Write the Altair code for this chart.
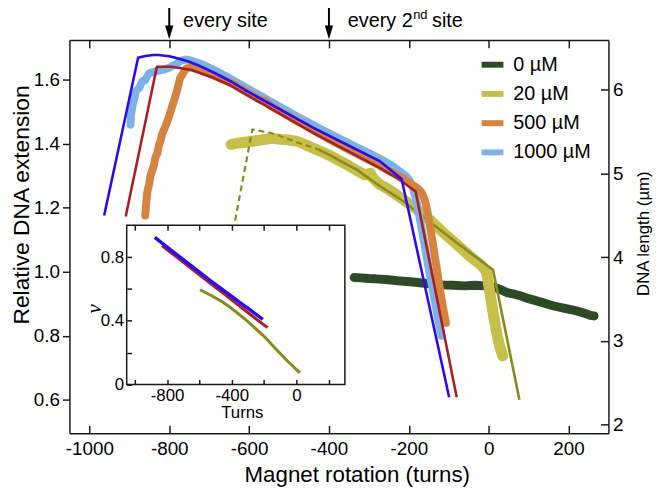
import altair as alt
import pandas as pd

FONT = "Liberation Sans"
INK = "#1a1a1a"

# ---------------- categories / colours ----------------
SERIES = ["0 µM", "20 µM", "500 µM", "1000 µM"]
SERIES_COLORS = ["#2c4a26", "#c6c04a", "#d4843e", "#7cb2e8"]
FIT20_COLOR = "#8a8a1e"
FIT500_COLOR = "#a82024"
FIT1000_COLOR = "#2a0af5"

# ---------------- tick labels ----------------
X_TICKS = [-1000, -800, -600, -400, -200, 0, 200]
Y_TICKS = [0.6, 0.8, 1.0, 1.2, 1.4, 1.6]
L_TICKS = [2, 3, 4, 5, 6]
IX_LABELS = [-800, -400, 0]
IX_TICKS = [-1000, -800, -600, -400, -200, 0, 200]
IY_LABELS = [0, 0.4, 0.8]
IY_TICKS = [0, 0.2, 0.4, 0.6, 0.8]

X_DOM = [-1050, 300]
Y_DOM = [0.495, 1.725]
L_DOM = [1.893, 6.596]
IY_DOM = [0, 1]

ANN_T = [-800, -400]

# ---------------- measured data ----------------
t_0 = [-337, -320, -300, -282, -250, -220, -190, -167, -140, -117, -90, -60, -35, -10, 7, 25, 48, 65, 81,
       100, 120, 140, 163, 185, 205, 225, 240, 254, 264]
v_0 = [0.982, 0.981, 0.979, 0.978, 0.975, 0.971, 0.968, 0.965, 0.962, 0.959, 0.958, 0.956, 0.958, 0.956,
       0.954, 0.947, 0.934, 0.930, 0.924, 0.916, 0.909, 0.902, 0.893, 0.887, 0.882, 0.876, 0.870, 0.864, 0.862]

t_20 = [-645, -630, -610, -587, -560, -540, -521, -500, -480, -460, -439, -420, -398, -378, -356, -332, -310,
        -296, -290, -274, -250, -233, -208, -180, -150, -120, -84, -50, -20, -6, -2, 3, 8, 14, 20, 27, 35]
v_20 = [1.398, 1.402, 1.405, 1.409, 1.414, 1.417, 1.414, 1.412, 1.408, 1.398, 1.386, 1.376, 1.364, 1.350,
        1.336, 1.318, 1.303, 1.308, 1.293, 1.274, 1.257, 1.243, 1.220, 1.195, 1.165, 1.130, 1.090, 1.052,
        1.022, 1.003, 0.975, 0.935, 0.895, 0.850, 0.810, 0.770, 0.737]

t_500 = [-860, -858, -855, -851, -847, -842, -838, -835, -830, -826, -822, -818, -813, -808, -802, -797, -792,
         -786, -781, -777, -773, -768, -762, -757, -748, -738, -728, -710, -690, -670, -650, -630, -610, -590,
         -570, -560, -550, -530, -510, -490, -470, -450, -430, -410, -390, -370, -350, -330, -310, -290, -270,
         -250, -230, -210, -195, -182, -175, -168, -162, -156, -150, -140, -130, -120, -113, -107]
v_500 = [1.176, 1.210, 1.250, 1.270, 1.300, 1.320, 1.335, 1.357, 1.370, 1.395, 1.410, 1.430, 1.445, 1.460,
         1.480, 1.500, 1.520, 1.543, 1.565, 1.585, 1.605, 1.615, 1.628, 1.636, 1.640, 1.637, 1.633, 1.625,
         1.614, 1.603, 1.593, 1.580, 1.565, 1.550, 1.536, 1.534, 1.522, 1.507, 1.493, 1.478, 1.464, 1.450,
         1.436, 1.422, 1.408, 1.395, 1.382, 1.369, 1.356, 1.343, 1.330, 1.316, 1.302, 1.287, 1.275, 1.265,
         1.258, 1.248, 1.232, 1.205, 1.165, 1.090, 1.010, 0.930, 0.880, 0.840]

t_1000 = [-897, -896, -893, -890, -886, -884, -880, -875, -868, -860, -851, -840, -828, -815, -800, -785, -770,
          -760, -745, -720, -690, -660, -630, -600, -570, -540, -510, -480, -450, -420, -390, -360, -330, -300,
          -270, -240, -215, -205, -198, -190, -181, -170, -160, -150, -140, -134, -126, -118]
v_1000 = [1.460, 1.490, 1.512, 1.530, 1.550, 1.564, 1.570, 1.575, 1.595, 1.600, 1.620, 1.625, 1.628, 1.632,
          1.638, 1.648, 1.660, 1.664, 1.660, 1.650, 1.632, 1.613, 1.592, 1.570, 1.549, 1.528, 1.507, 1.486,
          1.466, 1.446, 1.427, 1.408, 1.389, 1.371, 1.352, 1.330, 1.307, 1.297, 1.285, 1.262, 1.222, 1.150,
          1.080, 1.010, 0.945, 0.902, 0.850, 0.800]

# model fits
fit1000_t = [-963, -878, -860, -840, -827, -800, -777, -750, -728, -690, -645, -604, -540, -480, -439, -356,
             -274, -218, -99]
fit1000_v = [1.176, 1.669, 1.675, 1.678, 1.678, 1.674, 1.667, 1.657, 1.646, 1.624, 1.595, 1.564, 1.520,
             1.478, 1.450, 1.398, 1.347, 1.290, 0.608]

fit500_t = [-909, -831, -793, -744, -686, -650, -604, -520, -439, -356, -274, -230, -183, -80]
fit500_v = [1.173, 1.641, 1.641, 1.631, 1.605, 1.585, 1.552, 1.492, 1.434, 1.380, 1.326, 1.294, 1.251, 0.608]

fit20_dash_t = [-635, -592, -546, -521, -480, -439, -426]
fit20_dash_v = [1.160, 1.445, 1.434, 1.424, 1.405, 1.388, 1.382]
fit20_t = [-426, -398, -356, -332, -274, -216, -167, -84, 11, 77]
fit20_v = [1.382, 1.365, 1.336, 1.321, 1.269, 1.223, 1.175, 1.095, 1.006, 0.600]

# inset (nu vs turns)
in1000_t = [-876, -800, -700, -600, -545, -480, -400, -340, -280, -208]
in1000_v = [0.923, 0.863, 0.784, 0.705, 0.662, 0.613, 0.553, 0.508, 0.463, 0.409]
in500_t = [-831, -750, -650, -545, -450, -350, -260, -178]
in500_v = [0.871, 0.807, 0.728, 0.645, 0.570, 0.491, 0.420, 0.357]
in20_t = [-596, -530, -463, -400, -341, -300, -259, -200, -137, -60, 22]
in20_v = [0.595, 0.560, 0.522, 0.477, 0.429, 0.395, 0.357, 0.302, 0.233, 0.152, 0.073]

# ---------------- layout ----------------
W, H = 544, 397
INSET_XR = [57.8, 278]
INSET_YR = [347.7, 187]


def df_of(t, v, name=""):
    return pd.DataFrame({"t": t, "v": v, "series": name, "i": list(range(len(t)))})


AXC = dict(grid=False, domainColor=INK, tickColor=INK, domainWidth=1.5, tickWidth=1.5,
           labelColor="black", titleColor="black", labelFont=FONT, titleFontWeight="normal", zindex=1)

XS = alt.Scale(domain=X_DOM, nice=False, zero=False)
YS = alt.Scale(domain=Y_DOM, nice=False, zero=False)
LS = alt.Scale(domain=L_DOM, nice=False, zero=False)
IXS = alt.Scale(domain=X_DOM, range=INSET_XR, nice=False, zero=False)
IYS = alt.Scale(domain=IY_DOM, range=INSET_YR, nice=False, zero=False)
CS = alt.Scale(domain=SERIES, range=SERIES_COLORS)

X_MAIN = alt.Axis(orient="bottom", values=X_TICKS, labelExpr="'' + datum.value", labelFontSize=19,
                  ticks=False, labelPadding=6, title="Magnet rotation (turns)", titleFont=FONT,
                  titleFontSize=22.5, titleX=290, titleY=42, titleAlign="center", titleBaseline="middle",
                  titleAngle=0, **AXC)
Y_MAIN = alt.Axis(orient="left", values=Y_TICKS, format=".1f", labelFontSize=19, tickSize=7,
                  labelPadding=3, title="Relative DNA extension", titleFont=FONT, titleFontSize=23,
                  titleAngle=270, titleX=-48, titleY=166, titleAlign="center", titleBaseline="middle", **AXC)

IX_AX = alt.Axis(orient="bottom", offset=INSET_YR[0] - H, values=IX_LABELS, labelExpr="'' + datum.value",
                 labelFontSize=17, ticks=False, labelPadding=3, domain=False, title="Turns", titleFont=FONT,
                 titleFontSize=17, titleX=174, titleY=28, titleAlign="center", titleBaseline="middle",
                 titleAngle=0, **AXC)
IY_AX = alt.Axis(orient="left", offset=-INSET_XR[0], values=IY_LABELS, labelExpr="'' + datum.value",
                 labelFontSize=17, ticks=False, labelPadding=3, domain=False, title="ν",
                 titleFont="Liberation Serif", titleFontStyle="italic", titleFontSize=21, titleAngle=270,
                 titleX=-32.8, titleY=271, titleAlign="center", titleBaseline="middle", **AXC)

LEG = alt.Legend(title=None, orient="none", legendX=413, legendY=11, symbolType="stroke", symbolSize=484,
                 symbolStrokeWidth=6, labelFontSize=20, labelFont=FONT, labelColor="black",
                 rowPadding=3.5, labelOffset=7, padding=0)


def data_layer(t, v, name, sw):
    return alt.Chart(df_of(t, v, name)).mark_line(
        strokeWidth=sw, strokeCap="round", strokeJoin="round"
    ).encode(
        x=alt.X("t:Q", scale=XS, axis=X_MAIN),
        y=alt.Y("v:Q", scale=YS, axis=Y_MAIN),
        color=alt.Color("series:N", scale=CS, legend=LEG),
        order=alt.Order("i:Q"),
    )


def fit_layer(t, v, color, sw, dash=None, inset=False):
    mk = dict(strokeWidth=sw, color=color, strokeJoin="round")
    if dash:
        mk["strokeDash"] = dash
    xs, ys, xa, ya = (IXS, IYS, IX_AX, IY_AX) if inset else (XS, YS, X_MAIN, Y_MAIN)
    return alt.Chart(df_of(t, v)).mark_line(**mk).encode(
        x=alt.X("t:Q", scale=xs, axis=xa),
        y=alt.Y("v:Q", scale=ys, axis=ya),
        order=alt.Order("i:Q"),
    )


ann = pd.DataFrame({"t": ANN_T})
arrows = alt.Chart(ann).mark_rule(color="black", strokeWidth=2).encode(
    x=alt.X("t:Q", scale=XS, axis=X_MAIN), y=alt.value(-38), y2=alt.value(-12))
heads = alt.Chart(ann).mark_point(shape="M-0.6,-1L0.6,-1L0,1Z", filled=True, color="black",
                                  size=196, opacity=1).encode(
    x=alt.X("t:Q", scale=XS, axis=X_MAIN), y=alt.value(-7.6))


def ann_text(t, text, dx, size, y):
    return alt.Chart(pd.DataFrame({"t": [t], "label": [text]})).mark_text(
        align="left", baseline="middle", dx=dx, fontSize=size, font=FONT, color="black"
    ).encode(x=alt.X("t:Q", scale=XS, axis=X_MAIN), y=alt.value(y), text="label:N")


main = alt.layer(
    data_layer(t_0, v_0, SERIES[0], 9),
    data_layer(t_20, v_20, SERIES[1], 11),
    fit_layer(fit20_dash_t, fit20_dash_v, FIT20_COLOR, 2.2, dash=[6, 4]),
    fit_layer(fit20_t, fit20_v, FIT20_COLOR, 2.6),
    data_layer(t_1000, v_1000, SERIES[3], 8),
    data_layer(t_500, v_500, SERIES[2], 8),
    fit_layer(fit500_t, fit500_v, FIT500_COLOR, 2.6),
    fit_layer(fit1000_t, fit1000_v, FIT1000_COLOR, 2.6),
    arrows, heads,
    ann_text(ANN_T[0], "every site", 14, 20, -19),
    ann_text(ANN_T[1], "every 2", 19, 20, -19),
    ann_text(ANN_T[1], "nd", 85, 13, -25),
    ann_text(ANN_T[1], "site", 104, 20, -19),
)

# ---------------- inset ----------------
rect_df = pd.DataFrame({"t": [X_DOM[0]], "t2": [X_DOM[1]], "v": [IY_DOM[0]], "v2": [IY_DOM[1]]})
inset_box = alt.Chart(rect_df).mark_rect(fill="white", stroke=INK, strokeWidth=1.5).encode(
    x=alt.X("t:Q", scale=IXS, axis=IX_AX), x2="t2:Q",
    y=alt.Y("v:Q", scale=IYS, axis=IY_AX), y2="v2:Q")

inset = alt.layer(
    inset_box,
    fit_layer(in20_t, in20_v, FIT20_COLOR, 3, inset=True),
    fit_layer(in500_t, in500_v, FIT500_COLOR, 3, inset=True),
    fit_layer(in1000_t, in1000_v, FIT1000_COLOR, 3.5, inset=True),
)

# ---------------- extra axes (frame ticks, right axis) ----------------
ax_df = pd.DataFrame({"t": X_DOM, "v": Y_DOM, "L": L_DOM, "iv": IY_DOM})


def x_axis_layer(scale, axis):
    return alt.Chart(ax_df).mark_point(opacity=0).encode(x=alt.X("t:Q", scale=scale, axis=axis))


def y_axis_layer(field, scale, axis):
    return alt.Chart(ax_df).mark_point(opacity=0).encode(y=alt.Y(f"{field}:Q", scale=scale, axis=axis))


tick_only = dict(labels=False, title=None, **AXC)

layers = [
    main,
    inset,
    x_axis_layer(XS, alt.Axis(orient="top", offset=-H, values=X_TICKS, domain=False, tickSize=8, **tick_only)),
    x_axis_layer(XS, alt.Axis(orient="bottom", offset=-H, values=X_TICKS, domain=True, tickSize=8, **tick_only)),
    y_axis_layer("L", LS, alt.Axis(orient="right", values=L_TICKS, labelFontSize=19, ticks=False, labelPadding=4,
                                   domain=True, title="DNA length (µm)", titleFont=FONT, titleFontSize=17,
                                   titleAngle=270, titleX=35, titleY=195, titleAlign="center",
                                   titleBaseline="middle", **AXC)),
    y_axis_layer("L", LS, alt.Axis(orient="left", offset=-W, values=L_TICKS, domain=False, tickSize=8, **tick_only)),
    x_axis_layer(IXS, alt.Axis(orient="top", offset=-INSET_YR[0], values=IX_TICKS, domain=False, tickSize=5,
                               **tick_only)),
    x_axis_layer(IXS, alt.Axis(orient="bottom", offset=INSET_YR[1] - H, values=IX_TICKS, domain=False,
                               tickSize=5, **tick_only)),
    y_axis_layer("iv", IYS, alt.Axis(orient="right", offset=INSET_XR[0] - W, values=IY_TICKS, domain=False,
                                     tickSize=5, **tick_only)),
]

chart = alt.layer(*layers).resolve_scale(x="independent", y="independent").properties(
    width=W, height=H,
    autosize=alt.AutoSizeParams(type="none"),
    padding={"left": 62, "top": 30, "right": 47, "bottom": 55},
).configure_view(stroke=None)

chart.save("out.html", embed_options={"renderer": "svg", "actions": False})
